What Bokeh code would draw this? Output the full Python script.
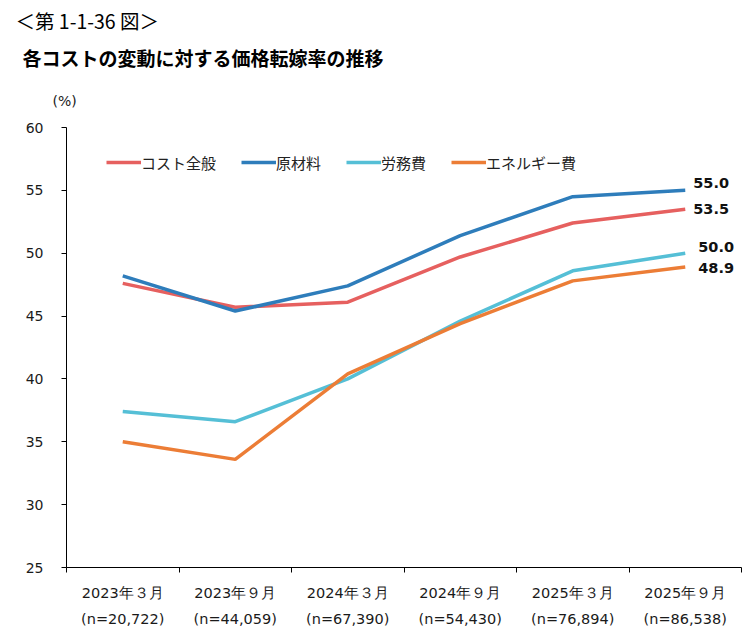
from bokeh.plotting import figure
from bokeh.models import (FixedTicker, Range1d, Legend, LegendItem, Title,
                          ColumnDataSource, LabelSet)
from bokeh.core.properties import value
from bokeh.embed import file_html
from bokeh.resources import INLINE

# ---- data ----
periods = ["2023年３月", "2023年９月", "2024年３月", "2024年９月", "2025年３月", "2025年９月"]
samples = ["(n=20,722)", "(n=44,059)", "(n=67,390)", "(n=54,430)", "(n=76,894)", "(n=86,538)"]
series_names = ["コスト全般", "原材料", "労務費", "エネルギー費"]
cost_all = [47.6, 45.7, 46.1, 49.7, 52.4, 53.5]
raw_materials = [48.2, 45.4, 47.4, 51.4, 54.5, 55.0]
labor = [37.4, 36.6, 40.0, 44.6, 48.6, 50.0]
energy = [35.0, 33.6, 40.4, 44.4, 47.8, 48.9]
y_ticks = [25, 30, 35, 40, 45, 50, 55, 60]

# ---- styles ----
colors = ["#E6605F", "#2E7DBB", "#55BFD6", "#EC7D36"]
label_dx = [8, 8, 13, 13]      # end-label offsets (px), order: 原材料, コスト全般, 労務費, エネルギー費
label_dy = [7, 0, 6, -1]
JP = "Noto Sans CJK JP"
NUM = "DejaVu Sans"

n = len(periods)
centers = [i + 0.5 for i in range(n)]
bounds = [float(i) for i in range(n + 1)]

p = figure(width=745, height=640, output_backend="svg", toolbar_location=None,
           x_range=Range1d(0, n), y_range=Range1d(25, 60),
           min_border_left=66, min_border_right=4, min_border_bottom=73,
           min_border_top=127)
p.outline_line_color = None
p.xgrid.visible = False
p.ygrid.visible = False
p.background_fill_color = "white"

series = [cost_all, raw_materials, labor, energy]
renderers = []
for name, vals, c in zip(series_names, series, colors):
    r = p.line(centers, vals, line_color=c, line_width=3.5)
    renderers.append(r)

legend = Legend(items=[LegendItem(label=nm, renderers=[r]) for nm, r in zip(series_names, renderers)],
                orientation="horizontal", location=(40, 394), margin=0, padding=0,
                spacing=25, label_standoff=0, glyph_width=35, glyph_height=22,
                label_height=22, border_line_color=None, background_fill_alpha=0,
                label_text_font=JP, label_text_font_size="15px", label_text_color="#222222")
p.add_layout(legend, "center")

# end labels
end_vals = [raw_materials[-1], cost_all[-1], labor[-1], energy[-1]]
src = ColumnDataSource(dict(x=[centers[-1]] * 4, y=end_vals,
                            t=[f"{v:.1f}" for v in end_vals], dx=label_dx, dy=label_dy))
p.add_layout(LabelSet(x="x", y="y", text="t", source=src, x_offset="dx", y_offset="dy",
                      text_font=value(NUM), text_font_style="bold", text_font_size="14.5px",
                      text_baseline="middle", text_align="left", text_color="#111111"))

# y axis
ya = p.yaxis[0]
ya.ticker = FixedTicker(ticks=y_ticks)
ya.minor_tick_line_color = None
ya.major_tick_in = 0
ya.major_tick_out = 5
ya.axis_line_color = "#000000"
ya.major_tick_line_color = "#000000"
ya.major_label_standoff = 18
ya.major_label_text_font = NUM
ya.major_label_text_font_size = "14px"
ya.major_label_text_color = "#1a1a1a"

# x axis
xa = p.xaxis[0]
xa.ticker = FixedTicker(ticks=centers, minor_ticks=bounds)
xa.major_tick_line_color = None
xa.minor_tick_in = 0
xa.minor_tick_out = 5
xa.minor_tick_line_color = "#000000"
xa.axis_line_color = "#000000"
xa.major_label_overrides = {c: f"{a}\n{b}" for c, a, b in zip(centers, periods, samples)}
xa.major_label_text_font = NUM
xa.major_label_text_font_size = "14.5px"
xa.major_label_text_color = "#1a1a1a"
xa.major_label_text_line_height = 1.68
xa.major_label_standoff = 11

# titles (stacked above, nearest to the plot first)
p.add_layout(Title(text=" ", text_font=NUM, text_font_size="1px", standoff=0.5), "above")
p.add_layout(Title(text="(%)", align="left", offset=-14, standoff=29.5,
                   text_font=NUM, text_font_size="14px", text_font_style="normal",
                   text_color="#1a1a1a"), "above")
p.add_layout(Title(text="各コストの変動に対する価格転嫁率の推移", align="left", offset=-44,
                   standoff=9, text_font=JP, text_font_size="19px",
                   text_font_style="bold", text_color="#000000"), "above")
p.add_layout(Title(text="＜第 1-1-36 図＞", align="left", offset=-51, standoff=6,
                   text_font=JP, text_font_size="19.5px", text_font_style="normal",
                   text_color="#000000"), "above")

open("out.html", "w").write(file_html(p, INLINE))
